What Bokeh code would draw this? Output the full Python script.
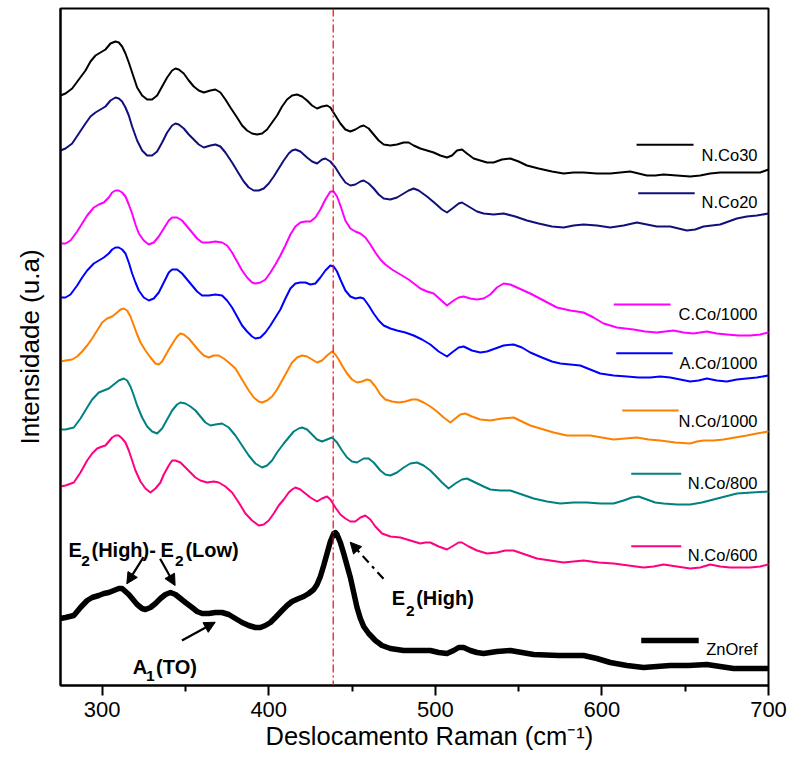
from bokeh.plotting import figure
from bokeh.models import Label, Arrow, NormalHead, Span, FixedTicker, Title
from bokeh.embed import file_html
from bokeh.resources import INLINE

# Raman spectra, vertically offset (arbitrary units); Raman shift in cm-1
nco30_x = [275, 278, 282, 286, 290, 293, 296, 299, 302, 305, 308, 310, 312, 314, 316, 318, 321, 324, 327, 330,
           333, 336, 339, 342, 344, 346, 349, 352, 355, 358, 361, 365, 368, 371, 374, 377, 381, 384, 387, 390,
           393, 396, 399, 402, 405, 408, 411, 414, 417, 420, 423, 426, 429, 432, 435, 437, 440, 443, 446, 449,
           452, 455, 457, 460, 463, 466, 469, 473, 477, 481, 484, 487, 491, 495, 499, 503, 507, 510, 513, 516,
           519, 523, 527, 531, 535, 540, 545, 550, 555, 562, 570, 577, 583, 589, 597, 605, 611, 617, 622, 627,
           632, 637, 645, 653, 659, 665, 671, 677, 683, 689, 695, 700]
nco30_y = [590, 592, 597, 606, 615, 624, 630, 633, 636, 642, 644, 643, 639, 632, 623, 613, 598, 590, 586, 586,
           590, 599, 608, 615, 617, 616, 612, 605, 599, 595, 593, 595, 596, 593, 586, 578, 568, 560, 555, 552,
           551, 552, 556, 563, 570, 579, 586, 590, 591, 589, 585, 580, 577, 579, 580, 578, 570, 562, 556, 554,
           556, 559, 560, 557, 551, 545, 541, 540, 541, 543, 543, 540, 537, 535, 533, 530, 528, 530, 535, 536,
           532, 527, 525, 523, 523, 526, 527, 524, 520, 517, 514, 512, 513, 513, 512, 512, 513, 514, 512, 510,
           510, 511, 510, 509, 510, 512, 513, 513, 513, 513, 513, 516]

nco20_x = [275, 278, 282, 286, 290, 293, 296, 299, 302, 305, 308, 310, 312, 314, 316, 318, 321, 324, 327, 330,
           333, 336, 339, 342, 344, 346, 349, 352, 355, 358, 361, 365, 368, 371, 374, 378, 382, 385, 388, 391,
           394, 397, 400, 403, 406, 409, 412, 414, 416, 419, 423, 426, 429, 432, 434, 437, 440, 443, 446, 449,
           452, 455, 457, 460, 463, 466, 469, 473, 477, 481, 484, 487, 490, 495, 500, 504, 507, 511, 514, 516,
           520, 525, 529, 535, 541, 548, 555, 562, 570, 577, 583, 589, 597, 605, 613, 621, 627, 633, 641, 646,
           651, 656, 661, 666, 671, 676, 681, 687, 693, 700]
nco20_y = [535, 537, 542, 552, 562, 569, 573, 576, 579, 585, 588, 587, 584, 578, 570, 559, 545, 535, 530, 530,
           534, 543, 553, 560, 562, 561, 557, 551, 546, 541, 538, 540, 541, 539, 533, 523, 512, 504, 498, 495,
           495, 497, 502, 509, 517, 525, 532, 535, 536, 534, 528, 524, 522, 526, 527, 524, 518, 510, 503, 500,
           501, 504, 505, 502, 497, 491, 487, 486, 488, 492, 495, 497, 495, 489, 482, 476, 473, 478, 482, 483,
           479, 474, 472, 471, 472, 469, 465, 462, 459, 458, 460, 461, 460, 458, 460, 463, 461, 459, 459, 457,
           455, 456, 459, 460, 461, 464, 467, 469, 470, 472]

cco1000_x = [275, 278, 281, 285, 288, 291, 295, 298, 301, 304, 306, 308, 310, 312, 314, 316, 318, 320, 322, 325,
             328, 331, 334, 337, 340, 342, 345, 348, 351, 354, 357, 360, 364, 368, 372, 375, 378, 381, 384, 387,
             390, 392, 395, 398, 401, 404, 407, 410, 413, 416, 419, 422, 425, 428, 431, 434, 437, 439, 441, 443,
             446, 449, 452, 455, 458, 461, 464, 467, 470, 474, 478, 484, 491, 495, 499, 503, 507, 511, 514, 517,
             521, 525, 529, 533, 537, 541, 545, 549, 553, 557, 565, 573, 581, 589, 595, 601, 609, 619, 626, 633,
             638, 643, 649, 655, 659, 663, 669, 675, 682, 689, 695, 700]
cco1000_y = [442, 442, 445, 454, 462, 470, 478, 481, 483, 488, 493, 495, 495, 493, 489, 481, 472, 461, 452, 445,
             441, 443, 449, 457, 465, 468, 468, 465, 459, 453, 447, 443, 443, 444, 443, 440, 433, 424, 415, 408,
             403, 402, 403, 406, 413, 421, 430, 440, 451, 459, 463, 464, 464, 468, 476, 486, 494, 494, 489, 480,
             465, 457, 454, 452, 448, 441, 433, 426, 421, 416, 412, 406, 397, 394, 392, 386, 380, 385, 388, 389,
             387, 386, 387, 391, 398, 402, 401, 398, 395, 392, 385, 378, 375, 373, 368, 362, 358, 356, 354, 353,
             354, 355, 353, 352, 353, 354, 352, 351, 350, 350, 351, 353]

aco1000_x = [275, 278, 281, 285, 288, 291, 295, 298, 301, 304, 306, 308, 310, 312, 314, 316, 318, 320, 322, 325,
             328, 331, 334, 337, 340, 342, 345, 348, 351, 354, 357, 360, 364, 368, 372, 375, 378, 381, 384, 387,
             390, 392, 395, 398, 401, 404, 407, 410, 413, 416, 419, 422, 425, 428, 431, 434, 437, 439, 441, 443,
             446, 449, 452, 455, 457, 460, 463, 466, 469, 473, 477, 482, 487, 492, 497, 502, 507, 510, 514, 517,
             522, 527, 531, 536, 541, 547, 552, 557, 564, 570, 575, 581, 587, 593, 599, 607, 615, 622, 629, 635,
             641, 647, 653, 658, 663, 669, 675, 681, 687, 693, 700]
aco1000_y = [388, 388, 391, 400, 408, 415, 422, 425, 428, 432, 436, 438, 438, 436, 432, 423, 412, 403, 395, 388,
             385, 387, 393, 403, 413, 416, 416, 412, 406, 400, 394, 390, 390, 391, 390, 385, 378, 369, 360, 354,
             349, 347, 348, 353, 360, 368, 376, 387, 397, 402, 403, 403, 401, 402, 408, 415, 420, 419, 414, 406,
             395, 389, 387, 388, 387, 380, 372, 365, 360, 357, 355, 353, 350, 346, 341, 334, 329, 333, 338, 339,
             335, 333, 334, 337, 340, 341, 338, 333, 328, 324, 322, 321, 320, 316, 312, 310, 309, 308, 308, 309,
             308, 306, 304, 305, 307, 305, 304, 306, 307, 308, 310]

nco1000_x = [275, 278, 282, 285, 288, 291, 294, 297, 300, 303, 306, 309, 311, 313, 315, 317, 319, 321, 323, 326,
             329, 332, 334, 336, 338, 340, 343, 345, 347, 349, 352, 355, 358, 361, 364, 367, 370, 373, 376, 380,
             384, 388, 391, 394, 396, 399, 402, 405, 408, 411, 414, 417, 420, 423, 426, 429, 432, 435, 438, 440,
             442, 444, 447, 450, 453, 456, 459, 461, 464, 467, 470, 474, 478, 482, 486, 489, 493, 497, 501, 505,
             509, 512, 515, 518, 522, 527, 533, 540, 547, 552, 557, 563, 571, 579, 586, 593, 600, 607, 614, 621,
             628, 635, 644, 653, 657, 661, 667, 673, 680, 687, 693, 700]
nco1000_y = [324, 325, 326, 329, 334, 340, 347, 355, 363, 367, 369, 373, 376, 377, 375, 369, 360, 351, 343, 335,
             328, 322, 321, 324, 330, 336, 344, 349, 352, 351, 347, 341, 335, 330, 328, 330, 330, 327, 323, 317,
             306, 295, 288, 284, 283, 285, 289, 296, 305, 314, 323, 328, 330, 329, 326, 323, 325, 330, 334, 331,
             326, 320, 312, 306, 303, 304, 306, 305, 299, 291, 286, 284, 283, 284, 286, 286, 283, 279, 274, 268,
             263, 267, 271, 272, 269, 266, 265, 267, 268, 264, 260, 257, 253, 250, 250, 250, 248, 246, 247, 248,
             246, 245, 243, 242, 244, 245, 245, 246, 248, 250, 252, 254]

nco800_x = [275, 278, 283, 287, 291, 294, 298, 301, 304, 307, 310, 313, 315, 317, 319, 321, 324, 327, 330, 333,
            336, 339, 342, 345, 347, 350, 353, 356, 359, 362, 365, 368, 372, 376, 380, 384, 388, 392, 396, 399,
            402, 405, 409, 412, 415, 418, 420, 423, 426, 429, 432, 435, 438, 441, 444, 447, 450, 453, 457, 460,
            463, 467, 470, 473, 477, 481, 485, 489, 493, 497, 500, 504, 508, 512, 516, 519, 524, 529, 533, 539,
            545, 552, 559, 567, 575, 583, 591, 599, 607, 613, 618, 622, 627, 632, 637, 645, 653, 660, 667, 674,
            681, 690, 700]
nco800_y = [256, 256, 258, 267, 278, 286, 293, 295, 297, 301, 305, 307, 305, 299, 290, 280, 268, 259, 254, 252,
            257, 266, 275, 281, 283, 282, 279, 275, 269, 263, 260, 261, 262, 258, 250, 240, 230, 222, 218, 220,
            225, 233, 242, 248, 254, 257, 258, 256, 251, 246, 244, 246, 248, 243, 235, 228, 224, 223, 227, 227,
            223, 215, 211, 210, 213, 218, 222, 223, 220, 215, 210, 203, 197, 202, 206, 207, 203, 199, 196, 195,
            195, 191, 187, 184, 182, 183, 183, 182, 182, 185, 188, 189, 186, 183, 182, 181, 181, 183, 186, 189,
            192, 193, 194]

nco600_x = [275, 278, 283, 287, 291, 294, 297, 300, 302, 304, 306, 308, 310, 312, 314, 316, 318, 320, 323, 326,
            329, 332, 335, 337, 340, 342, 344, 347, 350, 353, 356, 359, 363, 367, 370, 374, 378, 382, 386, 390,
            394, 397, 400, 403, 406, 409, 412, 414, 416, 419, 422, 425, 429, 432, 435, 437, 440, 443, 446, 449,
            452, 455, 458, 461, 464, 468, 473, 479, 485, 491, 494, 497, 502, 507, 511, 514, 516, 520, 525, 531,
            537, 542, 547, 554, 561, 569, 577, 583, 589, 598, 607, 616, 625, 631, 637, 645, 653, 659, 665, 671,
            677, 683, 689, 695, 700]
nco600_y = [199, 200, 203, 213, 225, 232, 237, 239, 240, 244, 248, 250, 250, 247, 243, 235, 225, 215, 204, 197,
            193, 197, 203, 211, 220, 225, 225, 223, 218, 213, 208, 205, 203, 204, 203, 199, 193, 183, 172, 165,
            160, 161, 165, 172, 180, 186, 193, 196, 198, 196, 192, 188, 184, 187, 189, 186, 178, 171, 167, 164,
            164, 168, 170, 166, 159, 152, 149, 148, 145, 142, 143, 143, 139, 136, 140, 143, 143, 139, 135, 132,
            133, 135, 135, 131, 127, 125, 123, 124, 125, 123, 122, 120, 118, 119, 121, 119, 117, 118, 121, 119,
            118, 118, 118, 119, 121]

znoref_x = [275, 278, 283, 287, 291, 294, 298, 301, 304, 307, 310, 312, 314, 316, 318, 321, 324, 326, 329, 332,
            335, 338, 341, 344, 347, 350, 354, 357, 360, 364, 368, 372, 376, 380, 384, 388, 392, 395, 398, 401,
            404, 408, 411, 414, 418, 421, 424, 427, 429, 431, 433, 435, 437, 439, 440, 441, 443, 445, 447, 449,
            451, 453, 455, 457, 460, 464, 468, 473, 481, 489, 497, 502, 507, 511, 514, 517, 521, 525, 529, 537,
            545, 552, 559, 574, 589, 597, 605, 615, 625, 633, 641, 652, 663, 671, 679, 690, 700]
znoref_y = [67, 68, 70, 78, 85, 88, 90, 92, 93, 95, 97, 97, 94, 91, 87, 81, 77, 76, 78, 82,
            87, 91, 93, 91, 87, 83, 78, 74, 72, 72, 73, 73, 71, 67, 63, 60, 58, 58, 60, 63,
            68, 75, 80, 84, 87, 89, 92, 96, 101, 109, 120, 132, 144, 152, 153, 151, 143, 132, 120, 108,
            93, 78, 67, 59, 52, 45, 40, 37, 35, 35, 35, 33, 32, 35, 38, 38, 35, 33, 32, 34,
            35, 33, 31, 30, 30, 27, 23, 20, 18, 19, 20, 20, 21, 19, 17, 17, 17]

series_names = ["N.Co30", "N.Co20", "C.Co/1000", "A.Co/1000", "N.Co/1000", "N.Co/800", "N.Co/600", "ZnOref"]
series_x = [nco30_x, nco20_x, cco1000_x, aco1000_x, nco1000_x, nco800_x, nco600_x, znoref_x]
series_y = [nco30_y, nco20_y, cco1000_y, aco1000_y, nco1000_y, nco800_y, nco600_y, znoref_y]

# E2(High) position of the ZnO reference
e2_high_shift = 438.7

x_ticks = [300, 400, 500, 600, 700]
x_minor_ticks = [350, 450, 550, 650]

# styling
colors = ["#000000", "#10107a", "#ff00ff", "#0000ff", "#ff8000", "#008080", "#ff0080", "#000000"]
widths = [2, 2, 2, 2, 2, 2, 2, 5.5]
FONT = "Liberation Sans"

p = figure(frame_width=708, frame_height=677, x_range=(275, 700), y_range=(0, 677),
           output_backend="svg", toolbar_location=None,
           min_border_left=60, min_border_right=24, min_border_top=8, min_border_bottom=75,
           background_fill_color="white", border_fill_color="white")
p.xgrid.visible = False
p.ygrid.visible = False
p.outline_line_color = "black"
p.outline_line_width = 2

xa = p.xaxis[0]
xa.ticker = FixedTicker(ticks=x_ticks, minor_ticks=x_minor_ticks)
xa.axis_line_width = 2
xa.major_tick_line_width = 2
xa.minor_tick_line_width = 2
xa.major_tick_in = 0
xa.major_tick_out = 10
xa.minor_tick_in = 0
xa.minor_tick_out = 6
xa.major_label_text_font = FONT
xa.major_label_text_font_size = "22px"
xa.major_label_text_color = "black"
xa.major_label_standoff = 6

# x-axis title, set a little right of the frame centre
p.add_layout(Title(text="Deslocamento Raman (cm\u207b\u00b9)", align="left", offset=205, standoff=0,
                   text_font=FONT, text_font_size="25.5px", text_font_style="normal",
                   text_color="black"), "below")

ya = p.yaxis[0]
ya.ticker = FixedTicker(ticks=[])
ya.axis_line_width = 2
ya.major_tick_line_color = None
ya.minor_tick_line_color = None
ya.axis_label = "Intensidade (u.a)"
ya.axis_label_text_font = FONT
ya.axis_label_text_font_size = "26px"
ya.axis_label_text_font_style = "normal"
ya.axis_label_text_color = "black"
ya.axis_label_standoff = 16

for xs, ys, c, w in zip(series_x, series_y, colors, widths):
    p.line(xs, ys, line_color=c, line_width=w, line_join="round", line_cap="round")

p.add_layout(Span(location=e2_high_shift, dimension="height", line_color="red",
                  line_width=1.2, line_dash="8 3 2 3"))


def text(x, y, s, size, bold=False, align="left"):
    p.add_layout(Label(x=x, y=y, text=s, text_align=align, text_baseline="alphabetic",
                       text_font=FONT, text_font_size=size,
                       text_font_style="bold" if bold else "normal", text_color="black"))


# legend entries placed beside each spectrum
legend_line_x = [(620.8, 655.0), (621.8, 655.7), (607.1, 641.2), (608.6, 642.5),
                 (612.2, 646.1), (617.6, 647.6), (617.6, 647.6), (623.6, 658.1)]
legend_line_y = [540.7, 492.3, 381, 332.3, 275, 211.7, 139.3, 45]
legend_text_y = [530.7, 483.3, 371.7, 322.7, 265, 202.3, 131, 36.7]
for name, (x0, x1), ly, ty, c, w in zip(series_names, legend_line_x, legend_line_y, legend_text_y, colors, widths):
    p.line([x0, x1], [ly, ly], line_color=c, line_width=w)
    text(693.4, ty, name, "16.5px", align="right")

BIG, SUB = "20px", "15.5px"
# E2(High)- E2(Low)
text(279.8, 135.7, "E", BIG, True)
text(287.4, 125, "2", SUB, True)
text(293.6, 135.7, "(High)-", BIG, True)
text(335.0, 135.7, "E", BIG, True)
text(343.7, 125, "2", SUB, True)
text(350.0, 135.7, "(Low)", BIG, True)
# A1(TO)
text(318.4, 19, "A", BIG, True)
text(326.3, 10, "1", SUB, True)
text(332.4, 19, "(TO)", BIG, True)
# E2(High) of the reference
text(473.9, 87.7, "E", BIG, True)
text(482.4, 75, "2", SUB, True)
text(488.5, 87.7, "(High)", BIG, True)


def arrow(x0, y0, x1, y1, dash="solid"):
    p.add_layout(Arrow(end=NormalHead(size=11, fill_color="black", line_color="black", line_width=1),
                       x_start=x0, y_start=y0, x_end=x1, y_end=y1,
                       line_color="black", line_width=2.2, line_dash=dash))


arrow(324.8, 128.3, 314.8, 101.7)
arrow(334.8, 126.7, 343.8, 100)
arrow(347.9, 45, 367.9, 63.3)
arrow(468.9, 106.7, 448.9, 143.3, dash="9 5 3 5")

open("out.html", "w").write(file_html(p, INLINE))
